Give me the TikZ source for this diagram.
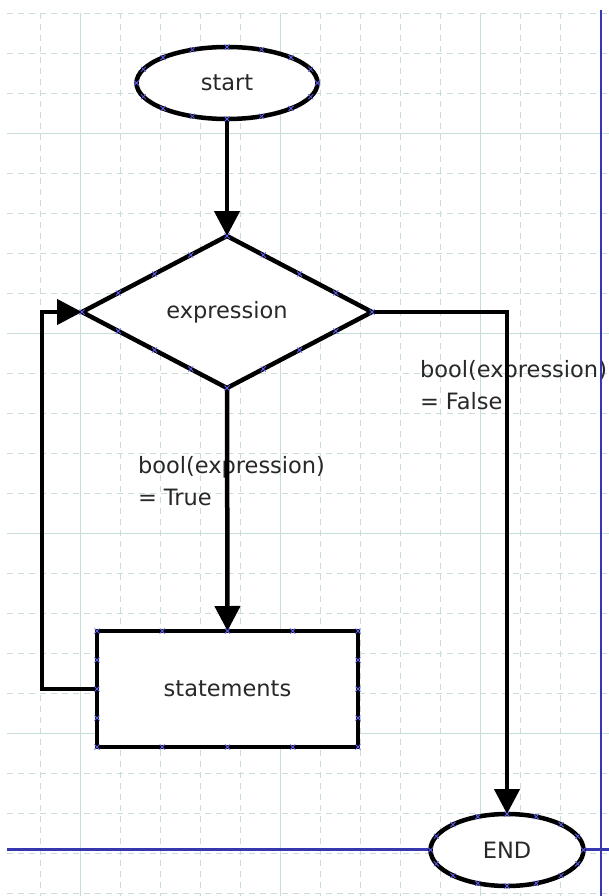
\documentclass[tikz,border=0pt]{standalone}
\usepackage{fontspec}
\setmainfont{DejaVu Sans}
\usetikzlibrary{shapes.geometric,arrows.meta,calc}
\definecolor{gridc}{RGB}{200,220,220}
\definecolor{pageblue}{RGB}{55,55,175}
\definecolor{markblue}{RGB}{95,95,235}
\definecolor{txt}{RGB}{40,40,40}
\begin{document}
\begin{tikzpicture}[x=1pt,y=-1pt,
  gridd/.style={gridc,line width=1pt,dash pattern=on 6pt off 5pt},
  grids/.style={gridc,line width=1pt},
  shp/.style={draw=black,fill=white,line width=4.5pt,inner sep=0pt,outer sep=0pt,
    text=txt,font=\fontsize{22.5pt}{26pt}\selectfont},
  term/.style={shp,ellipse},
  dec/.style={shp,diamond},
  proc/.style={shp,rectangle},
  lbl/.style={inner sep=0pt,outer sep=0pt,align=left,text=txt,
    font=\fontsize{22.5pt}{32pt}\selectfont},
  conn/.style={draw=black,line width=4.5pt,-{Triangle[length=25pt,width=25pt]}},
  mk/.pic={\draw[markblue,line width=0.8pt] (-2.5,-2.5)--(2.5,2.5) (-2.5,2.5)--(2.5,-2.5);}
]
\useasboundingbox (0,0) rectangle (609,896);
\fill[white] (0,0) rectangle (609,896);
% grid
\foreach \k in {1,...,14} {\draw[gridd] (40*\k,13) -- (40*\k,896);}
\foreach \j in {0,...,22} {\draw[gridd] (7,13.3+40*\j) -- (609,13.3+40*\j);}
\foreach \k in {2,7,12} {\draw[grids] (40*\k,13) -- (40*\k,896);}
\foreach \j in {3,8,13,18} {\draw[grids] (7,13.3+40*\j) -- (609,13.3+40*\j);}
% labels
\node[lbl,anchor=north west] (lt) at (138,456) {bool(expression)\\= True};
\node[lbl,anchor=north west] (lf) at (420,360) {bool(expression)\\= False};
% page border lines
\draw[pageblue,line width=2pt] (601,10) -- (601,896);
\draw[pageblue,line width=2.2pt] (7,849.5) -- (609,849.5);
% shapes
\node[term,minimum width=181pt,minimum height=72pt] (start) at (227,83) {start};
\node[dec,minimum width=290pt,minimum height=152pt] (d) at (227,312) {expression};
\node[proc,minimum width=261pt,minimum height=116pt] (s) at (227.5,689) {statements};
\node[term,minimum width=153pt,minimum height=72pt] (e) at (507,850) {END};
% connectors
\draw[conn] (start.south) -- (d.north);
\draw[conn] (d.south) -- (s.north);
\draw[conn] (d.east) -| (e.north);
\draw[conn] (s.west) -- ++(-55,0) |- (d.west);
% connection point markers
\foreach \a in {0,22.5,...,337.5} {
  \pic at ($(start.center)+({90.5*cos(\a)},{36*sin(\a)})$) {mk};
  \pic at ($(e.center)+({76.5*cos(\a)},{36*sin(\a)})$) {mk};
}
\foreach \t in {0,0.25,0.5,0.75} {
  \pic at ($(d.north)!\t!(d.east)$) {mk};
  \pic at ($(d.east)!\t!(d.south)$) {mk};
  \pic at ($(d.south)!\t!(d.west)$) {mk};
  \pic at ($(d.west)!\t!(d.north)$) {mk};
  \pic at ($(s.north west)!\t!(s.north east)$) {mk};
  \pic at ($(s.north east)!\t!(s.south east)$) {mk};
  \pic at ($(s.south east)!\t!(s.south west)$) {mk};
  \pic at ($(s.south west)!\t!(s.north west)$) {mk};
}
\end{tikzpicture}
\end{document}
